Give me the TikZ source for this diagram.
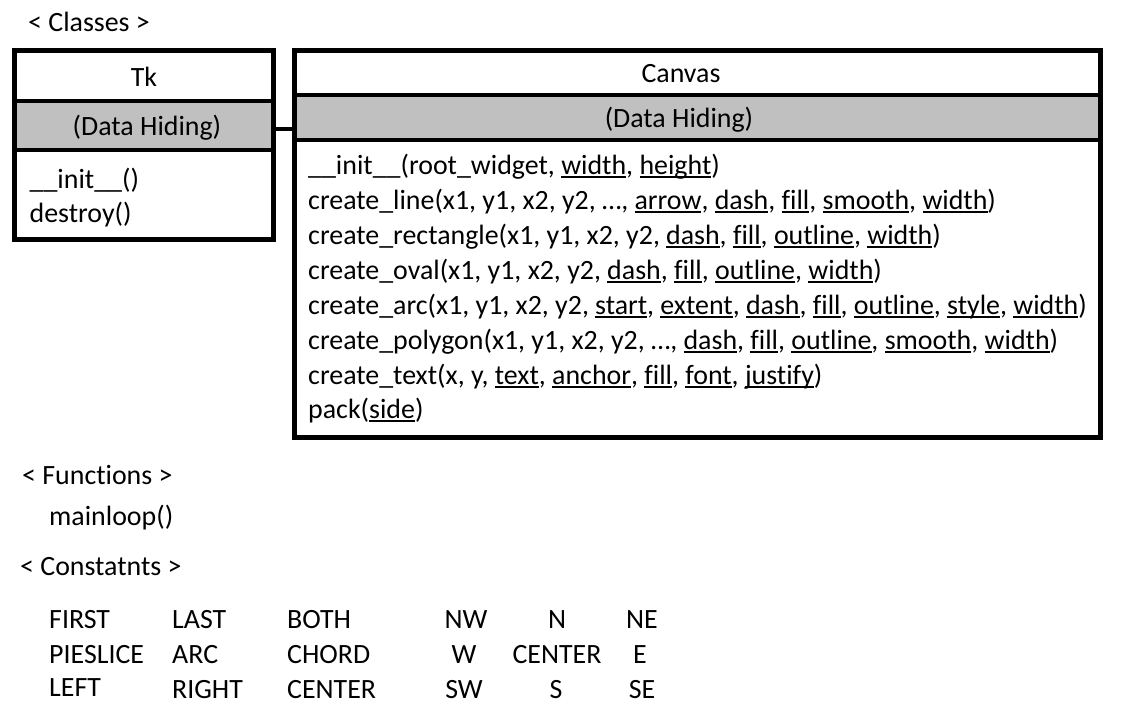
\documentclass[tikz,border=0pt]{standalone}
\usepackage{fontspec}
\setmainfont[Ligatures=NoCommon]{Carlito}
\newcommand\fs{\fontsize{27.9}{34}\selectfont}
% underlined keyword argument
\newcommand\uw[1]{\setbox0\hbox{#1}\rlap{\rule[-4pt]{\wd0}{1.8pt}}\box0}
\definecolor{hidegray}{RGB}{192,192,192}
\tikzset{
  lbl/.style={inner sep=0pt, anchor=base west, font=\fs},
  ctr/.style={inner sep=0pt, anchor=base, font=\fs},
  boxline/.style={draw, line width=4.5pt, inner sep=0pt, outer sep=0pt},
  sepline/.style={line width=3.5pt},
  linkline/.style={line width=4pt},
}
\begin{document}
\begin{tikzpicture}[x=1pt,y=-1pt]
\useasboundingbox[fill=white] (0,0) rectangle (1123,720);

% ---------- classes ----------
\node[lbl] (hcls) at (28,31) {< Classes >};

% Tk class
\fill[hidegray] (14.5,101) rectangle (273.5,150);
\draw[sepline] (14.5,101) -- (273.5,101);
\draw[sepline] (14.5,150) -- (273.5,150);
\node[boxline, minimum width=259pt, minimum height=189pt, anchor=north west] (tk) at (14.5,50.5) {};
\node[ctr] (tkname) at (144,86) {Tk};
\node[ctr] (tkhide) at (147,135) {(Data Hiding)};
\node[lbl] (tkm1) at (29.5,188) {\_\_init\_\_()};
\node[lbl] (tkm2) at (29.5,222) {destroy()};

% Canvas class
\fill[hidegray] (294.5,95) rectangle (1100.5,140);
\draw[sepline] (294.5,95) -- (1100.5,95);
\draw[sepline] (294.5,140) -- (1100.5,140);
\node[boxline, minimum width=806pt, minimum height=387pt, anchor=north west] (cv) at (294.5,50.5) {};
\node[ctr] (cvname) at (681,82.5) {Canvas};
\node[ctr] (cvhide) at (679,127) {(Data Hiding)};
\node[lbl] (cv1) at (308,174) {\_\_init\_\_(root\_widget, \uw{width}, \uw{height})};
\node[lbl] (cv2) at (308,209) {create\_line(x1, y1, x2, y2, …, \uw{arrow}, \uw{dash}, \uw{fill}, \uw{smooth}, \uw{width})};
\node[lbl] (cv3) at (308,244) {create\_rectangle(x1, y1, x2, y2, \uw{dash}, \uw{fill}, \uw{outline}, \uw{width})};
\node[lbl] (cv4) at (308,279) {create\_oval(x1, y1, x2, y2, \uw{dash}, \uw{fill}, \uw{outline}, \uw{width})};
\node[lbl] (cv5) at (308,314) {create\_arc(x1, y1, x2, y2, \uw{start}, \uw{extent}, \uw{dash}, \uw{fill}, \uw{outline}, \uw{style}, \uw{width})};
\node[lbl] (cv6) at (308,349) {create\_polygon(x1, y1, x2, y2, …, \uw{dash}, \uw{fill}, \uw{outline}, \uw{smooth}, \uw{width})};
\node[lbl] (cv7) at (308,384) {create\_text(x, y, \uw{text}, \uw{anchor}, \uw{fill}, \uw{font}, \uw{justify})};
\node[lbl] (cv8) at (308,418) {pack(\uw{side})};

% link between the two classes
\coordinate (joint) at (283,128.5);
\draw[linkline] (tk.east |- joint) -- (cv.west |- joint);

% ---------- functions ----------
\node[lbl] (hfun) at (22,484) {< Functions >};
\node[lbl] (fmain) at (49,525) {mainloop()};

% ---------- constants ----------
\node[lbl] (hcon) at (20,575) {< Constatnts >};
\node[lbl] (k11) at (49,628) {FIRST};
\node[lbl] (k12) at (172,628) {LAST};
\node[lbl] (k13) at (287,628) {BOTH};
\node[ctr] (k14) at (466,628) {NW};
\node[ctr] (k15) at (557,628) {N};
\node[ctr] (k16) at (642,628) {NE};
\node[lbl] (k21) at (49,663) {PIESLICE};
\node[lbl] (k22) at (172,663) {ARC};
\node[lbl] (k23) at (287,663) {CHORD};
\node[ctr] (k24) at (464,663) {W};
\node[ctr] (k25) at (557,663) {CENTER};
\node[ctr] (k26) at (640,663) {E};
\node[lbl] (k31) at (49,696) {LEFT};
\node[lbl] (k32) at (172,698) {RIGHT};
\node[lbl] (k33) at (287,698) {CENTER};
\node[ctr] (k34) at (464,698) {SW};
\node[ctr] (k35) at (556,698) {S};
\node[ctr] (k36) at (642,698) {SE};
\end{tikzpicture}
\end{document}
